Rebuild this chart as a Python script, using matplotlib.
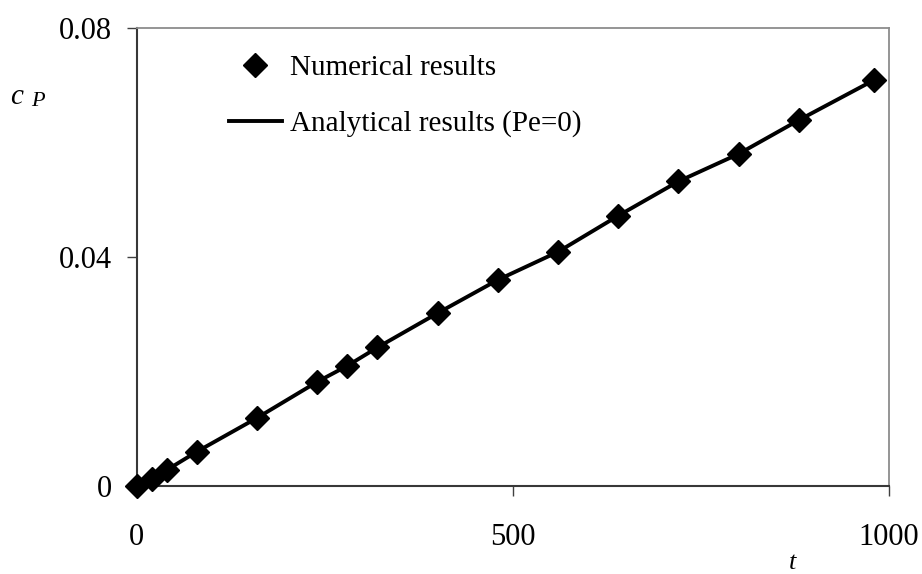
import matplotlib
matplotlib.use("Agg")
import matplotlib.pyplot as plt

# values
t_num = [0, 20, 40, 80, 160, 240, 280, 320, 400, 480, 560, 640, 720, 800, 880, 980]
c_num = [0.0, 0.0012, 0.0028, 0.0060, 0.0119, 0.0182, 0.0210, 0.0242,
         0.0302, 0.0360, 0.0409, 0.0472, 0.0532, 0.0580, 0.0639, 0.0709]

t_ana = [0, 20, 40, 80, 160, 240, 280, 320, 400, 480, 560, 640, 720, 800, 880, 980]
c_ana = [0.0, 0.0012, 0.0028, 0.0060, 0.0119, 0.0182, 0.0210, 0.0242,
         0.0302, 0.0360, 0.0409, 0.0472, 0.0532, 0.0580, 0.0639, 0.0709]

x_ticks = [0, 500, 1000]
y_ticks = [0, 0.04, 0.08]
y_tick_labels = ['0', '0.04', '0.08']

plt.rcParams['font.family'] = ['Liberation Serif', 'DejaVu Serif']

fig = plt.figure(figsize=(9.22, 5.74), dpi=100)
ax = fig.add_axes([0.1483, 0.1533, 0.8159, 0.7979])

ax.plot(t_ana, c_ana, color='black', linewidth=2.8, label='Analytical results (Pe=0)', zorder=2)
ax.plot(t_num, c_num, linestyle='none', marker='D', markersize=12, color='black',
        label='Numerical results', zorder=3, clip_on=False)

ax.set_xlim(0, 1000)
ax.set_ylim(0, 0.08)
ax.set_xticks(x_ticks)
ax.set_xticklabels([str(v) for v in x_ticks])
ax.set_yticks(y_ticks)
ax.set_yticklabels(y_tick_labels)

ax.tick_params(axis='both', direction='out', length=7.5, width=1.0, color='#404040',
               labelsize=22)
ax.tick_params(axis='x', pad=19)
ax.tick_params(axis='y', pad=10)

for s in ['left', 'bottom']:
    ax.spines[s].set_color('#383838')
    ax.spines[s].set_linewidth(1.5)
for s in ['top', 'right']:
    ax.spines[s].set_color('#8c8c8c')
    ax.spines[s].set_linewidth(1.3)

# legend: marker first, then line
h, l = ax.get_legend_handles_labels()
ax.legend([h[1], h[0]], [l[1], l[0]], loc='upper left', bbox_to_anchor=(0.122, 0.942),
          frameon=False, fontsize=21, handlelength=1.85, handletextpad=0.25,
          labelspacing=1.0, borderpad=0, borderaxespad=0, numpoints=1)

# axis labels
fig.text(10 / 922, 1 - 97 / 574, 'c', fontsize=21, style='italic', ha='left', va='center')
fig.text(31 / 922, 1 - 101 / 574, 'P', fontsize=16, style='italic', ha='left', va='center')
fig.text(793 / 922, 1 - 563 / 574, 't', fontsize=19, style='italic', ha='center', va='center')

fig.savefig('out.png', dpi=100)
